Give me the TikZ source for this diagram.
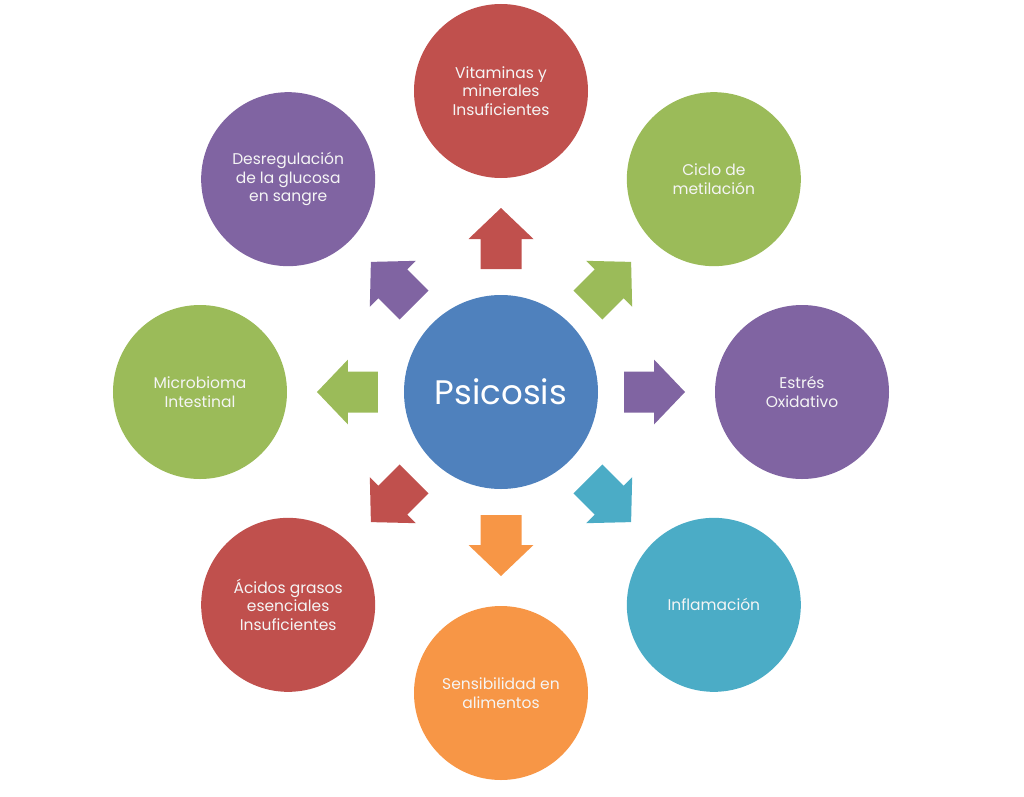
\documentclass[tikz,border=0pt]{standalone}
\usepackage{fontspec}
\setmainfont{Poppins}
\definecolor{cred}{HTML}{C0504D}
\definecolor{cgreen}{HTML}{9BBB59}
\definecolor{cpurple}{HTML}{8064A2}
\definecolor{cteal}{HTML}{4BACC6}
\definecolor{corange}{HTML}{F79646}
\definecolor{cblue}{HTML}{4F81BD}
\begin{document}
\begin{tikzpicture}[x=1pt,y=1pt,
  hub/.style={circle, fill=cblue, minimum size=194pt, inner sep=0pt, text=white,
    font=\fontsize{34}{40}\selectfont},
  leaf/.style={circle, minimum size=174pt, inner sep=0pt, text=white!96!black, align=center,
    font=\fontsize{15.5}{18.7}\selectfont},
  blockarrow/.style={fill=#1}]
\useasboundingbox (-501,-404) rectangle (523,392);
\node[hub] (c) at (0,0) {Psicosis};
\node[leaf, fill=cred]    (n1) at (90:301)   {Vitaminas y\\minerales\\Insuficientes};
\node[leaf, fill=cgreen]  (n2) at (45:301)   {Ciclo de\\metilación};
\node[leaf, fill=cpurple] (n3) at (0:301)    {Estrés\\Oxidativo};
\node[leaf, fill=cteal]   (n4) at (-45:301)  {Inflamación};
\node[leaf, fill=corange] (n5) at (-90:301)  {Sensibilidad en\\alimentos};
\node[leaf, fill=cred]    (n6) at (-135:301) {Ácidos grasos\\esenciales\\Insuficientes};
\node[leaf, fill=cgreen]  (n7) at (180:301)  {Microbioma\\Intestinal};
\node[leaf, fill=cpurple] (n8) at (135:301)  {Desregulación\\de la glucosa\\en sangre};
\foreach \a/\col in {90/cred,45/cgreen,0/cpurple,-45/cteal,-90/corange,-135/cred,180/cgreen,135/cpurple}{
  \fill[blockarrow=\col, shift={(c)}, rotate=\a]
    (123,-20.5) -- (153,-20.5) -- (153,-32.5) -- (184,0) -- (153,32.5) -- (153,20.5) -- (123,20.5) -- cycle;
}
\end{tikzpicture}
\end{document}
